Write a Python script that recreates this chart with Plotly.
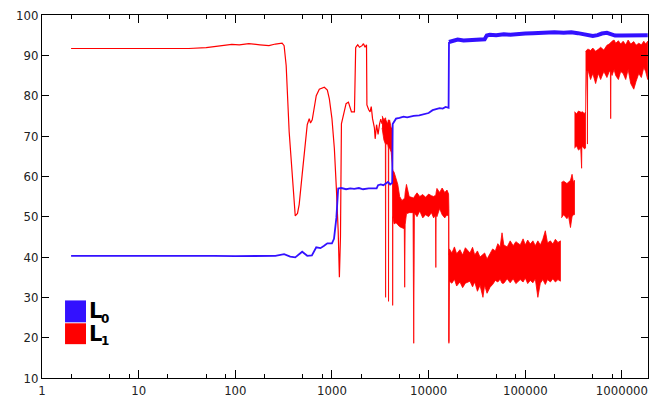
import plotly.graph_objects as go

# ---------------- data ----------------
# L1 (red) - smooth / sparse part
red_x = [2, 3, 5, 10, 20, 33, 50, 70, 92, 110, 138, 180, 223, 260, 305, 320, 336, 361, 388, 405,
         417, 440, 458, 492, 529, 555, 582, 600, 625, 688, 740, 795, 834, 896, 940, 1000, 1059, 1111,
         1160, 1194, 1225, 1253, 1300, 1400, 1480, 1590, 1709, 1760, 1794, 1850, 1928, 2050, 2120,
         2200, 2278, 2300, 2400, 2480, 2550, 2630, 2750, 2800, 2895, 3000, 3110, 3200, 3300]
red_y = [91.7, 91.7, 91.6, 91.7, 91.7, 91.7, 91.9, 92.3, 92.7, 92.6, 92.9, 92.6, 92.4, 92.8, 93.0,
         92.4, 87.5, 71.0, 60.0, 54.0, 50.2, 50.8, 53.0, 60.5, 68.6, 72.8, 74.3, 73.2, 74.0, 80.0,
         81.6, 82.0, 82.1, 81.4, 79.2, 74.3, 66.9, 57.0, 46.5, 35.0, 45.0, 73.0, 74.8, 78.0, 78.4,
         76.0, 76.0, 91.9, 92.2, 92.6, 92.0, 92.4, 92.9, 92.0, 92.6, 77.7, 76.5, 76.0, 77.3, 74.3,
         72.0, 69.3, 72.8, 70.4, 73.0, 74.2, 73.0]

# L1 noisy bands: x, upper edge, lower edge
red_a_x = [3300, 3450, 3570, 3590, 3610, 3770, 3830, 3850, 3870, 3950, 4100, 4230, 4248, 4270, 4400,
           4600, 4800, 5019, 5300, 5600, 5658, 5720, 5900, 6300, 6900, 7015, 7130, 7590, 8100, 8700,
           9300, 10000, 10700, 11270, 11800, 11880, 11960, 12200, 13000, 13800, 14700, 15500, 16100, 16220]
red_a_hi = [75, 74, 74.5, 74.5, 74, 73, 74, 74, 73.5, 74, 72, 72, 62, 61.5, 61, 59.5, 58, 55, 54,
            54.5, 54.5, 56, 58, 55, 54.6, 54.6, 55, 55.9, 55, 55.5, 54.8, 55.6, 55.2, 55, 55.3, 55.3,
            56, 57, 56, 57.1, 56, 56.6, 55.6, 52]
red_a_lo = [72, 69, 68, 30, 68, 68, 67, 29, 67, 67, 66, 62, 28, 50, 48.2, 48.5, 48, 47.5, 47.2, 47,
            32.5, 48, 50.7, 51, 51, 18.6, 51, 50, 51.4, 49.7, 50.5, 50, 51, 49.7, 50.5, 37.4, 50.5,
            50, 52, 50.5, 49.7, 50.5, 50, 18.6]

red_b_x = [16220, 16400, 17420, 18500, 19500, 21090, 22500, 24000, 26790, 28500, 30000, 32000, 34040,
           36500, 38000, 40240, 43250, 46000, 49000, 52000, 54950, 57500, 60000, 65000, 69830, 75000,
           80000, 88720, 95000, 100000, 106000, 112700, 120000, 127000, 135000, 143200, 152000,
           161300, 170000, 181900, 193000, 205000, 218000, 231200]
red_b_hi = [40.5, 42, 41, 42.5, 40.8, 41.8, 40.5, 42.3, 41, 42.4, 40.5, 41.5, 40, 40.8, 41, 39.5, 41,
            42, 41.5, 43.3, 42.5, 46, 43, 42.5, 44, 42.8, 43.8, 43, 44.5, 43, 44.2, 43.2, 44, 42.8,
            44, 43, 44.4, 46.5, 43.5, 44, 43.2, 44.4, 43.6, 44]
red_b_lo = [19, 34, 33.5, 34.5, 32.8, 33.8, 32.4, 33.5, 34, 32.6, 33.8, 31.5, 33, 30, 33, 31, 32.5,
            33.2, 34.2, 33.8, 34.5, 33.5, 33.5, 34.6, 33.6, 34.6, 33.4, 34.4, 33.8, 34.8, 33.4, 34.2,
            33.6, 34.6, 30, 33.5, 34.4, 33.2, 34.4, 33.8, 34.6, 33.8, 34.4, 34]

red_c_x = [236700, 250000, 270000, 280000, 293700, 305000, 315000, 323100]
red_c_hi = [58.5, 58.8, 58.2, 58.6, 59, 60.5, 58.5, 59]
red_c_lo = [49.7, 50.5, 49.5, 50.2, 47.3, 50, 50.5, 50.5]

red_d_x = [323100, 340000, 355600, 375000, 381000, 383000, 385000, 391400, 410000, 420500]
red_d_hi = [76, 75.5, 76.2, 75.8, 75.8, 75.8, 76, 76, 75.5, 76]
red_d_lo = [67, 67.5, 66.5, 67, 67, 62, 67, 67.5, 66.8, 67]

red_e_x = [420500, 430000, 438000, 440000, 442000, 450000, 474300, 500000, 534600, 570000, 602500,
           650000, 700000, 740000, 760000, 765400, 771000, 790000, 830000, 862600, 920000, 972000,
           1030000, 1095000, 1160000, 1234000, 1327000, 1400000, 1495000, 1590000, 1685000, 1760000,
           1850000]
red_e_hi = [91, 91.3, 91.5, 91.5, 91.5, 91.5, 91.2, 91.8, 91, 91.5, 92, 91.3, 92.5, 92.8, 93.2, 93.2,
            93.2, 93.5, 93.8, 93, 93.6, 92.8, 93.5, 92.6, 93.8, 92.8, 93.4, 92.5, 93, 92.6, 93.5,
            92.8, 93.5]
red_e_lo = [76, 86, 86, 68, 86, 86, 84, 85.5, 83, 85.5, 84, 86, 84.5, 86, 86, 74.3, 86, 85, 86.5,
            85, 84, 86, 85.5, 84, 86.5, 83, 81.6, 83.5, 85.5, 84.5, 87, 86, 84]

# L0 (blue)
blue_x = [2, 4, 10, 30, 60, 100, 150, 200, 260, 320, 370, 417, 460, 492, 555, 620, 688, 760, 830,
          896, 1000, 1050, 1111, 1160, 1250, 1400, 1550, 1700, 1900, 2100, 2400, 2700, 2900, 3000,
          3200, 3400, 3600, 3800, 4000, 4200, 4250, 4400, 4600, 5000, 5500, 6000, 7000, 8000, 9000,
          10000, 11000, 12000, 13000, 14000, 15000, 16100, 16250]
blue_y = [40.3, 40.3, 40.4, 40.4, 40.3, 40.2, 40.2, 40.2, 40.3, 40.7, 40.1, 39.9, 40.6, 41.3, 40.3,
          40.4, 42.4, 42.2, 42.8, 43.4, 43.4, 44.5, 49.7, 57.0, 57.1, 56.8, 57.0, 56.9, 57.1, 56.8,
          57.0, 56.9, 57.0, 57.8, 58.0, 57.8, 58.3, 58.6, 58.0, 58.4, 73.0, 73.5, 74.3, 74.5, 74.8,
          74.6, 75.0, 75.1, 75.5, 75.7, 76.4, 76.6, 76.9, 76.8, 77.2, 77.0, 93.3]

blue_top_x = [16250, 18000, 20000, 23000, 26000, 30000, 34000, 38000, 40000, 43000, 50000, 60000,
              70000, 80000, 90000, 100000, 120000, 140000, 160000, 200000, 250000, 300000, 350000,
              400000, 450000, 500000, 560000, 620000, 700000, 760000, 850000, 1000000, 1300000,
              1600000, 1850000]
blue_top_y = [93.3, 93.6, 93.9, 93.7, 93.8, 93.7, 93.9, 94.0, 94.9, 95.1, 95.0, 95.2, 95.1, 95.3,
              95.3, 95.4, 95.5, 95.6, 95.6, 95.7, 95.6, 95.7, 95.5, 95.2, 94.8, 94.8, 95.0, 95.4,
              95.6, 95.2, 94.9, 94.9, 95.0, 94.9, 95.0]

x_tick_vals = [1, 10, 100, 1000, 10000, 100000, 1000000]
x_tick_text = ["1", "10", "100", "1000", "10000", "100000", "1000000"]
x_minor_vals = [m * 10 ** d for d in range(7) for m in (2, 5, 8) if m * 10 ** d < 1900000]
y_tick_vals = [10, 20, 30, 40, 50, 60, 70, 80, 90, 100]
legend_labels = ["L", "L"]
legend_subs = ["0", "1"]

RED = "#ff0000"
BLUE = "#3311ff"

fig = go.Figure()

fig.add_trace(go.Scatter(x=red_x, y=red_y, mode="lines",
                         line=dict(color=RED, width=1.2), showlegend=False))
for bx, bh, bl in [(red_a_x, red_a_hi, red_a_lo), (red_b_x, red_b_hi, red_b_lo),
                   (red_c_x, red_c_hi, red_c_lo), (red_d_x, red_d_hi, red_d_lo),
                   (red_e_x, red_e_hi, red_e_lo)]:
    fig.add_trace(go.Scatter(x=bx + bx[::-1], y=bh + bl[::-1], mode="lines",
                             fill="toself", fillcolor=RED,
                             line=dict(color=RED, width=0.8), showlegend=False))

fig.add_trace(go.Scatter(x=blue_x, y=blue_y, mode="lines",
                         line=dict(color=BLUE, width=1.8), showlegend=False))
fig.add_trace(go.Scatter(x=blue_top_x, y=blue_top_y, mode="lines",
                         line=dict(color=BLUE, width=4), showlegend=False))

# legend boxes and labels
box_colors = [BLUE, RED]
box_y = [(0.1534, 0.2137), (0.0932, 0.1507)]
for col, (y0, y1), lab, sub in zip(box_colors, box_y, legend_labels, legend_subs):
    fig.add_shape(type="rect", xref="paper", yref="paper", x0=0.038, x1=0.0726, y0=y0, y1=y1,
                  fillcolor=col, line=dict(width=0))
    yc = (y0 + y1) / 2
    fig.add_annotation(text="<b>" + lab + "</b>", xref="paper", yref="paper", x=0.074, y=yc,
                       xanchor="left", yanchor="middle", showarrow=False,
                       font=dict(family="DejaVu Sans", size=21, color="black"))
    fig.add_annotation(text="<b>" + sub + "</b>", xref="paper", yref="paper", x=0.094, y=yc - 0.02,
                       xanchor="left", yanchor="middle", showarrow=False,
                       font=dict(family="DejaVu Sans", size=12, color="black"))

axis_font = dict(family="DejaVu Sans Condensed, DejaVu Sans, sans-serif", size=13,
                 color="#222222")
fig.update_xaxes(type="log", range=[0, 6.27], tickvals=x_tick_vals, ticktext=x_tick_text,
                 ticks="inside", ticklen=8, tickcolor="black", showline=True, linecolor="black",
                 linewidth=1, mirror="allticks", showgrid=False, zeroline=False, tickfont=axis_font,
                 automargin=False, ticklabeloverflow="allow",
                 minor=dict(tickvals=x_minor_vals, ticks="inside", ticklen=4, tickcolor="black",
                            showgrid=False))
fig.update_yaxes(range=[10, 100], tickvals=y_tick_vals, ticks="inside", ticklen=7,
                 tickcolor="black", showline=True, linecolor="black", linewidth=1,
                 mirror="allticks", showgrid=False, zeroline=False, tickfont=axis_font,
                 automargin=False, ticklabeloverflow="allow")

# the page body adds an 8 px offset, so margins are shifted to compensate
fig.update_layout(template="none", width=662, height=402,
                  margin=dict(l=34, r=22, t=7, b=32, autoexpand=False),
                  paper_bgcolor="white", plot_bgcolor="white")

fig.write_html("out.html")
